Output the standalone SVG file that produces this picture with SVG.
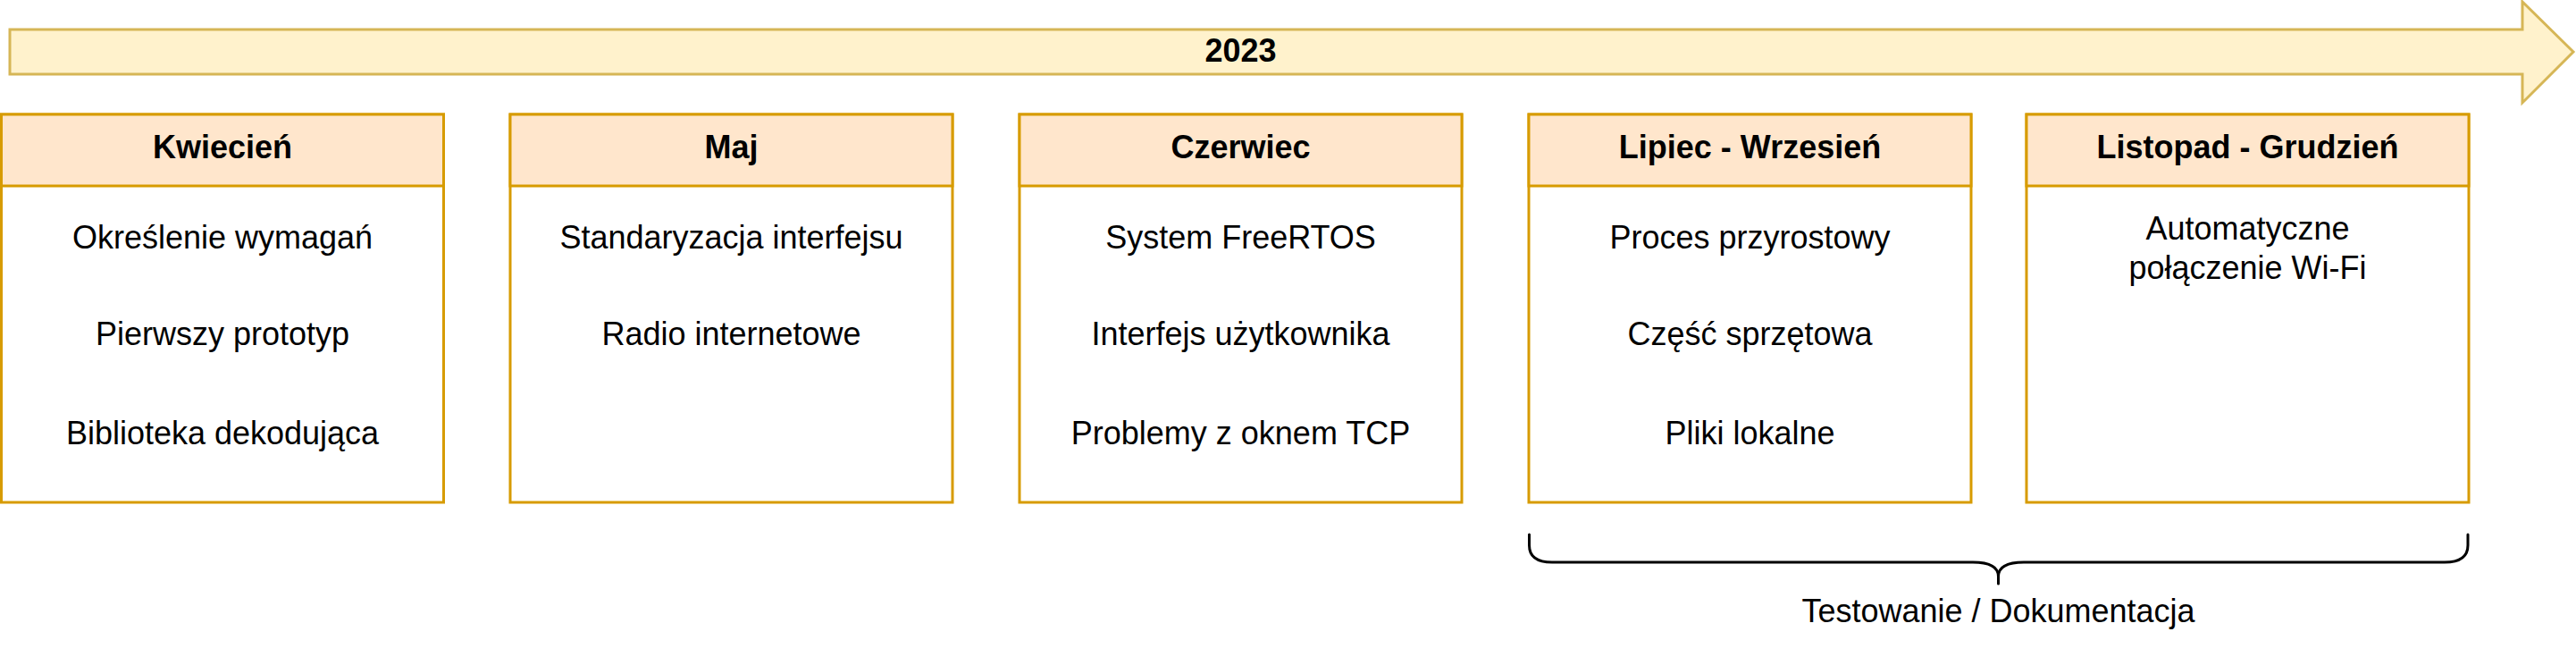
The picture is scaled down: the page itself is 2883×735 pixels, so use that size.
<svg xmlns="http://www.w3.org/2000/svg" width="2883" height="735" viewBox="0 0 2883 735">
<style>
.box{fill:#ffffff;stroke:#d79b00;stroke-width:3}
.hdr{fill:#ffe6cc;stroke:#d79b00;stroke-width:3}
.t{font-family:"Liberation Sans",Arial,Helvetica,sans-serif;font-size:36px;fill:#000000;text-anchor:middle}
.b{font-weight:bold}
.arrow{fill:#fff2cc;stroke:#d6b656;stroke-width:3;stroke-linejoin:miter}
.brace{fill:none;stroke:#000000;stroke-width:3;stroke-linecap:round;stroke-linejoin:round}
</style>
<rect width="2883" height="735" fill="#ffffff"/>
<g id="timeline">
<polygon class="arrow" points="11,33 2823,33 2823,2 2880,58 2823,115 2823,83 11,83"/>
<text class="t b" x="1388.5" y="69">2023</text>
</g>
<g id="kwiecien">
<rect class="box" x="1.5" y="128" width="495" height="434"/>
<rect class="hdr" x="1.5" y="128" width="495" height="80"/>
<text class="t b" x="249" y="177">Kwiecień</text>
<text class="t" x="249" y="278">Określenie wymagań</text>
<text class="t" x="249" y="386">Pierwszy prototyp</text>
<text class="t" x="249" y="497">Biblioteka dekodująca</text>
</g>
<g id="maj">
<rect class="box" x="571" y="128" width="495" height="434"/>
<rect class="hdr" x="571" y="128" width="495" height="80"/>
<text class="t b" x="818.5" y="177">Maj</text>
<text class="t" x="818.5" y="278">Standaryzacja interfejsu</text>
<text class="t" x="818.5" y="386">Radio internetowe</text>
</g>
<g id="czerwiec">
<rect class="box" x="1141" y="128" width="495" height="434"/>
<rect class="hdr" x="1141" y="128" width="495" height="80"/>
<text class="t b" x="1388.5" y="177">Czerwiec</text>
<text class="t" x="1388.5" y="278">System FreeRTOS</text>
<text class="t" x="1388.5" y="386">Interfejs użytkownika</text>
<text class="t" x="1388.5" y="497">Problemy z oknem TCP</text>
</g>
<g id="lipiec-wrzesien">
<rect class="box" x="1711" y="128" width="495" height="434"/>
<rect class="hdr" x="1711" y="128" width="495" height="80"/>
<text class="t b" x="1958.5" y="177">Lipiec - Wrzesień</text>
<text class="t" x="1958.5" y="278">Proces przyrostowy</text>
<text class="t" x="1958.5" y="386">Część sprzętowa</text>
<text class="t" x="1958.5" y="497">Pliki lokalne</text>
</g>
<g id="listopad-grudzien">
<rect class="box" x="2268" y="128" width="495" height="434"/>
<rect class="hdr" x="2268" y="128" width="495" height="80"/>
<text class="t b" x="2515.5" y="177">Listopad - Grudzień</text>
<text class="t" x="2515.5" y="268">Automatyczne</text>
<text class="t" x="2515.5" y="312">połączenie Wi-Fi</text>
</g>
<g id="testowanie">
<path class="brace" d="M1711.5,598 V610 Q1711.5,629 1737,629 H2208 Q2236.5,629 2236.5,645 V653 M2236.5,645 Q2236.5,629 2265,629 H2736 Q2762,629 2762,610 V598"/>
<text class="t" x="2236.5" y="696">Testowanie / Dokumentacja</text>
</g>
<g id="connectors"></g>
</svg>
